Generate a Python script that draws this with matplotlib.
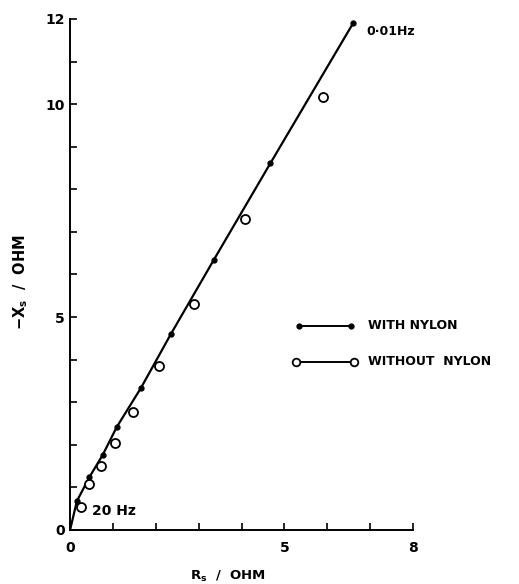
import matplotlib
matplotlib.use("Agg")
import matplotlib.pyplot as plt

plt.rcParams['font.family'] = ['DejaVu Sans']
plt.rcParams['font.weight'] = 'bold'
plt.rcParams['mathtext.default'] = 'regular'

# with nylon (filled dots), 20 Hz -> 0.01 Hz
with_x = [0.16, 0.45, 0.76, 1.09, 1.65, 2.35, 3.35, 4.67, 6.6]
with_y = [0.68, 1.24, 1.76, 2.42, 3.33, 4.6, 6.34, 8.61, 11.9]

# without nylon (open circles)
without_x = [0.25, 0.45, 0.72, 1.05, 1.46, 2.07, 2.89, 4.09, 5.9]
without_y = [0.54, 1.08, 1.5, 2.04, 2.77, 3.85, 5.3, 7.3, 10.16]

# fitted curve through the filled points, from the origin
curve_x = [0] + with_x
curve_y = [0] + with_y

fig = plt.figure(figsize=(5.19, 5.84), dpi=100)
ax = fig.add_axes([0.135, 0.0925, 0.661, 0.875])

ax.plot(curve_x, curve_y, color='black', linewidth=1.6, zorder=2)
ax.plot(with_x, with_y, 'o', color='black', markersize=3.5, zorder=3)
ax.plot(without_x, without_y, 'o', markerfacecolor='white', markeredgecolor='black',
        markersize=6.5, markeredgewidth=1.3, zorder=4)

ax.set_xlim(0, 8)
ax.set_ylim(0, 12)
ax.set_xticks(range(0, 9))
ax.set_xticklabels(['0', '', '', '', '', '5', '', '', '8'])
ax.set_yticks(range(0, 13))
ax.set_yticklabels(['0', '', '', '', '', '5', '', '', '', '', '10', '', '12'])
ax.tick_params(direction='in', length=5, width=1.2, labelsize=10, pad=4)
ax.tick_params(axis='x', pad=8)
for s in ['top', 'right']:
    ax.spines[s].set_visible(False)
for s in ['left', 'bottom']:
    ax.spines[s].set_linewidth(1.4)

ax.text(6.9, 11.7, '0·01Hz', fontsize=9, fontweight='bold', va='center')
ax.text(0.52, 0.45, '20 Hz', fontsize=10, fontweight='bold', va='center')

# legend drawn by hand
ly = [4.8, 3.95]
ax.plot([5.33, 6.55], [ly[0]] * 2, color='black', linewidth=1.4, marker='o', markersize=3.5, clip_on=False)
ax.plot([5.26, 6.62], [ly[1]] * 2, color='black', linewidth=1.4, marker='o', markersize=5.5,
        markerfacecolor='white', markeredgewidth=1.3, clip_on=False)
ax.text(6.95, ly[0], 'WITH NYLON', fontsize=9, fontweight='bold', va='center')
ax.text(6.95, ly[1], 'WITHOUT  NYLON', fontsize=9, fontweight='bold', va='center')

ax.set_xlabel('R$_s$  /  OHM', fontsize=9.5, fontweight='bold')
ax.set_ylabel('−X$_s$  /  OHM', fontsize=10.5, fontweight='bold')
ax.xaxis.set_label_coords(0.46, -0.076)
ax.yaxis.set_label_coords(-0.118, 0.485)

fig.savefig('out.png', dpi=100)
